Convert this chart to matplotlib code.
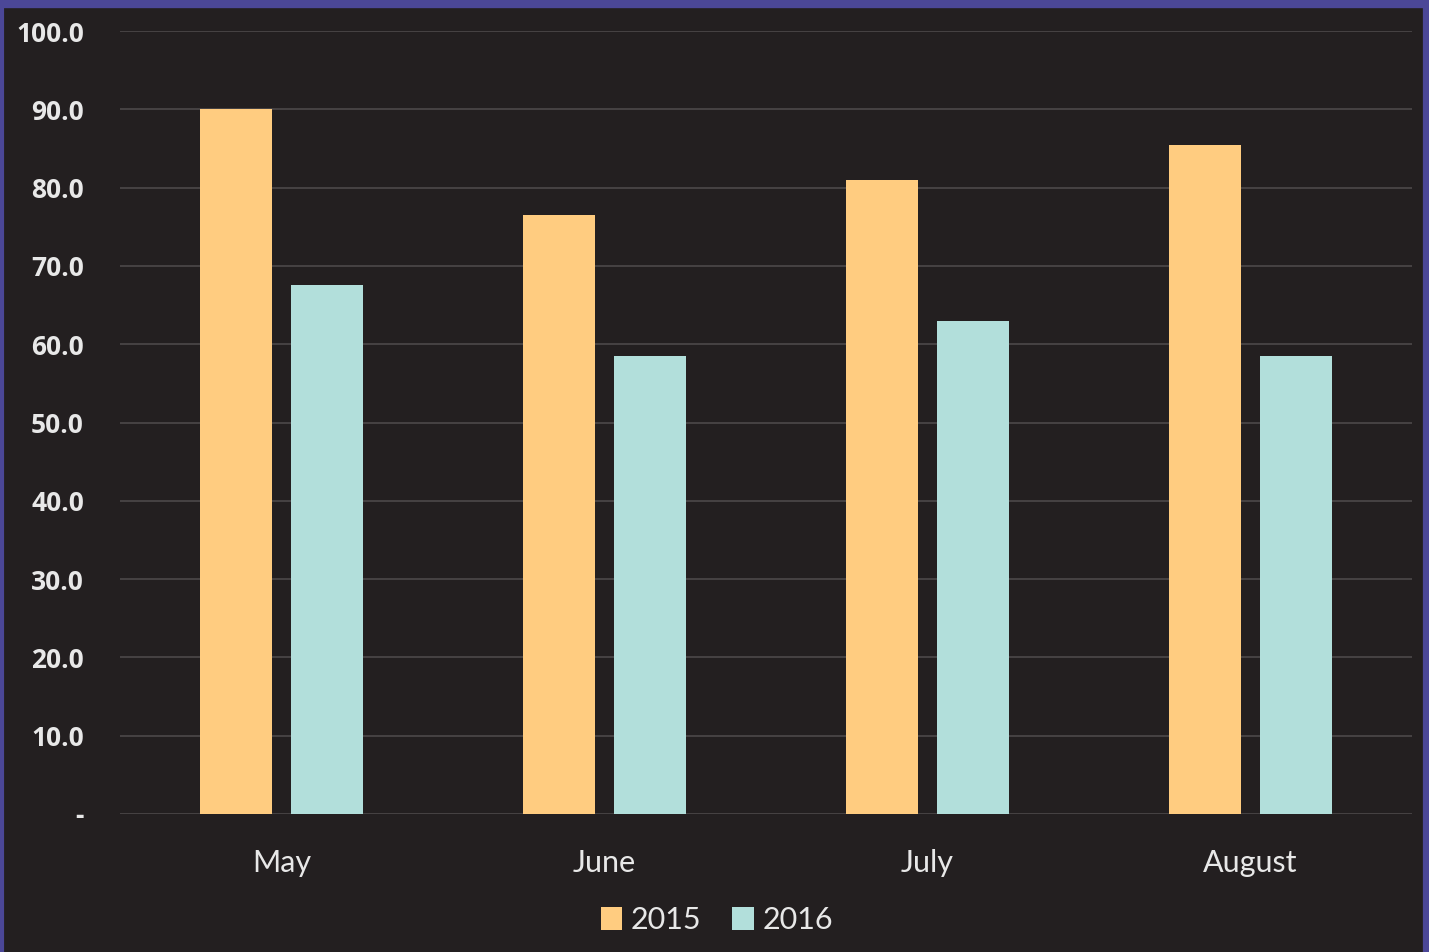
import numpy as np
import matplotlib.pyplot as plt
from matplotlib.lines import Line2D

plt.rcParams.update({"font.family": ["Lato", "DejaVu Sans"]})

months = ["May", "June", "July", "August"]
vals_2015 = [90.0, 76.5, 81.0, 85.5]
vals_2016 = [67.5, 58.5, 63.0, 58.5]
yticks = [0, 10, 20, 30, 40, 50, 60, 70, 80, 90, 100]

bg = '#231f20'
c15 = '#ffcc80'
c16 = '#b2dfdb'
txt = '#e8e8e8'
frame = '#4b4797'

fig = plt.figure(figsize=(14.29, 9.52), dpi=100, facecolor=bg)
# purple frame on top, left and right only
fig.lines.append(Line2D([0, 1], [1 - 4/952, 1 - 4/952], transform=fig.transFigure, color=frame, linewidth=6))
fig.lines.append(Line2D([2/1429, 2/1429], [0, 1], transform=fig.transFigure, color=frame, linewidth=3))
fig.lines.append(Line2D([1 - 3/1429, 1 - 3/1429], [0, 1], transform=fig.transFigure, color=frame, linewidth=4.5))

ax = fig.add_axes([120/1429, 1 - 814/952, 1292/1429, (814 - 31)/952])
ax.set_facecolor(bg)

x = np.arange(len(months))
width = 0.223
off = 0.142
ax.bar(x - off, vals_2015, width, color=c15, label='2015', zorder=3)
ax.bar(x + off, vals_2016, width, color=c16, label='2016', zorder=3)

ax.set_xlim(-0.5, 3.5)
ax.set_ylim(0, 100)
ax.set_yticks(yticks)
ax.set_yticklabels(['-'] + [f'{v:.1f}' for v in yticks[1:]], fontsize=19, fontweight='bold',
                   color=txt, family=['Open Sans', 'DejaVu Sans'])
ax.set_xticks(x)
ax.set_xticklabels(months, fontsize=22, color=txt)
ax.tick_params(axis='both', length=0)
ax.tick_params(axis='y', pad=26)
ax.tick_params(axis='x', pad=25)
ax.grid(axis='y', color='#4d494a', linewidth=1.2, zorder=0)
for s in ax.spines.values():
    s.set_visible(False)

leg = fig.legend(loc='center', bbox_to_anchor=(717/1429, 1 - 920/952), ncol=2, frameon=False,
                 fontsize=22, handlelength=0.7, handleheight=0.8, handletextpad=0.3, columnspacing=1.0,
                 labelcolor=txt)

fig.savefig('out.png', dpi=100, facecolor=bg)
